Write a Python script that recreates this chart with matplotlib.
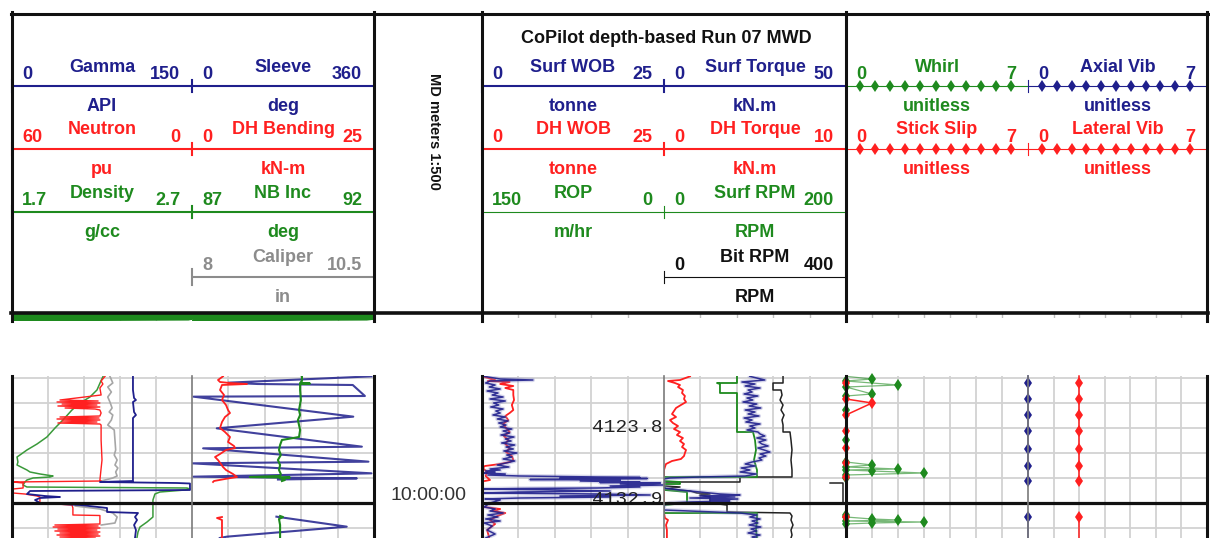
import numpy as np
import matplotlib.pyplot as plt

plt.rcParams['font.family'] = ['Liberation Sans', 'DejaVu Sans']

W, H = 1210, 538
fig = plt.figure(figsize=(W / 100, H / 100), dpi=100)

BLUE = '#1f1f8c'
RED = '#ff2020'
GREEN = '#1e8a1e'
GRAY = '#8c8c8c'
BLACK = '#111111'
GRID = '#d2d2d2'
nan = np.nan

# ---------------- log data (depth in m) ----------------
# track 1
gamma_depth = [4119.8, 4121.44, 4122.40, 4122.64, 4122.88, 4124.08, 4124.44, 4124.80, 4127.44, 4132.36,
               4132.48, 4132.60, 4132.66, 4133.44, 4133.56, 4133.92, 4134.16, 4134.28, 4134.40, 4134.64,
               4135.00, 4135.24, 4135.60, 4136.08, 4136.20, 4136.68, 4137.04, 4137.64, 4138.24, 4139.20]
gamma_api = [100.8, 100.8, 101.7, 103.3, 100.8, 101.7, 103.3, 100.8, 100.8, 100.8,
             73.3, 137.5, 148.3, 148.3, 15.0, 12.5, 27.5, 40.0, 23.3, 19.2,
             23.3, 56.7, 79.2, 79.2, 105.0, 102.5, 104.2, 101.7, 103.3, 102.5]

neutron_depth = [4119.8, 4120.36, 4120.72, 4121.20, 4122.04, 4122.64, 4122.76, 4122.88, 4123.00, 4123.12,
                 4123.24, 4123.36, 4123.48, 4123.60, 4123.72, 4123.84, 4124.20, 4124.56, 4124.68, 4124.80,
                 4124.92, 4125.04, 4125.16, 4125.28, 4125.40, 4125.52, 4125.64, 4127.44, 4129.84, 4132.24,
                 4132.36, 4132.48, 4132.60, 4133.20, 4133.32, 4133.80, 4133.92, 4134.16, 4134.28, 4135.00,
                 4135.24, 4135.60, 4136.44, 4136.50, 4137.52, 4137.64, 4137.76, 4137.88, 4138.00, 4138.12,
                 4138.24, 4138.36, 4138.48, 4138.60, 4138.72, 4138.84, 4138.96, 4139.08, 4139.20]
neutron_pu = [29.0, 30.3, 29.7, 30.7, 30.3, 44.0, 31.3, 45.0, 30.7, 43.3,
              31.7, 44.7, 30.7, 42.3, 32.3, 30.7, 30.3, 30.7, 44.0, 31.0,
              45.0, 30.7, 43.3, 31.7, 44.7, 30.7, 30.3, 30.3, 30.0, 30.7,
              30.3, 59.7, 56.3, 56.3, 59.7, 59.7, 55.7, 51.7, 50.7, 50.7,
              40.0, 39.7, 39.7, 30.7, 30.7, 45.7, 31.3, 46.3, 30.7, 44.7,
              31.7, 45.7, 30.7, 44.0, 31.3, 45.0, 30.7, 44.0, 32.3]

density_depth = [4119.8, 4120.60, 4121.44, 4122.28, 4123.00, 4123.84, 4125.04, 4126.00, 4127.08, 4127.92,
                 4128.64, 4129.24, 4129.48, 4130.08, 4130.44, 4130.80, 4131.04, 4131.28, 4131.52, 4131.76,
                 4131.88, 4132.00, 4132.24, 4132.48, 4132.84, 4133.08, 4133.20, 4133.32, 4133.44, 4133.68,
                 4133.92, 4134.64, 4136.68, 4137.28, 4137.88, 4138.48, 4139.20]
density_gcc = [2.206, 2.189, 2.172, 2.133, 2.078, 2.033, 1.983, 1.939, 1.894, 1.839,
               1.783, 1.744, 1.728, 1.733, 1.728, 1.761, 1.783, 1.800, 1.856, 1.928,
               1.911, 1.817, 1.783, 1.772, 1.761, 1.783, 2.672, 2.689, 2.661, 2.522,
               2.494, 2.483, 2.483, 2.450, 2.411, 2.400, 2.394]

caliper_depth = [4119.8, 4120.60, 4121.08, 4121.68, 4122.28, 4122.88, 4123.60, 4124.08, 4124.44, 4125.04,
                 4125.64, 4126.24, 4127.44, 4128.64, 4129.24, 4129.84, 4130.44, 4130.80, 4131.28, 4131.76,
                 4132.00, 4132.36, nan, 4135.36, 4135.72, 4136.20, 4136.68, 4137.40, 4137.64]
caliper_in = [9.36, 9.40, 9.33, 9.38, 9.33, 9.36, 9.39, 9.35, 9.40, 9.38,
              9.33, 9.42, 9.43, 9.44, 9.42, 9.46, 9.43, 9.47, 9.44, 9.46,
              9.40, 9.24, nan, 8.88, 9.22, 9.40, 9.46, 9.43, 9.24]

# track 2
sleeve_depth = [4119.8, 4120.56, 4120.72, 4120.84, 4122.16, 4122.24, 4124.64, 4126.04, 4128.24, 4128.44,
                4130.04, 4130.24, 4131.44, 4131.84, 4132.04, 4132.18, nan, 4136.64, 4137.84, 4139.04, 4139.20]
sleeve_deg = [355, 72, 130, 318, 342, 3, 319, 49, 336, 22,
              349, 0, 355, 3, 326, 170, nan, 167, 306, 69, 55]

bend_depth = [4119.8, 4120.24, 4120.48, 4120.60, 4120.72, 4120.84, 4121.44, 4122.04, 4122.64, 4123.24,
              4123.84, 4124.20, 4124.68, 4125.28, 4126.00, 4126.48, 4127.08, 4127.68, 4128.16, 4128.40,
              4128.64, 4129.12, 4129.48, 4129.84, 4130.32, 4130.68, 4131.04, 4131.52, 4131.88, 4132.12,
              4132.36, 4132.48, nan, 4136.68, 4136.80, 4137.04, 4139.20]
bend_knm = [4.26, 3.57, 3.85, 5.22, 7.56, 4.12, 3.85, 4.40, 4.12, 4.67,
            4.95, 5.22, 4.53, 4.12, 3.85, 4.53, 5.22, 4.95, 5.77, 5.91,
            4.67, 3.85, 3.16, 3.57, 3.98, 4.26, 4.67, 5.63, 6.18, 4.53,
            3.02, 2.89, nan, 4.12, 3.43, 4.12, 4.12]

nbinc_depth = [4119.8, 4120.36, 4120.60, 4120.66, 4120.72, 4121.44, 4122.64, 4123.84, 4124.44, 4125.04,
               4126.24, 4127.08, 4127.44, 4128.04, 4128.64, 4129.24, 4129.84, 4130.44, 4131.04, 4131.52,
               4131.76, 4131.88, 4131.94, 4132.00, 4132.24, 4132.36, nan, 4136.56, 4136.68, 4136.92,
               4137.64, 4139.20]
nbinc_deg = [90.02, 90.02, 89.97, 90.24, 89.97, 89.97, 89.99, 89.94, 89.97, 89.91,
             89.97, 89.94, 89.47, 89.42, 89.39, 89.44, 89.36, 89.42, 89.39, 89.44,
             89.42, 88.59, 89.69, 89.42, 89.55, 89.47, nan, 89.42, 89.50, 89.39,
             89.42, 89.42]

# track 3
swob_depth = [4119.8, 4120.12, 4120.24, 4120.36, 4120.60, 4120.84, 4121.08, 4121.32, 4121.56, 4121.80,
              4122.04, 4122.28, 4122.52, 4122.76, 4123.00, 4123.24, 4123.48, 4123.72, 4123.96, 4124.20,
              4124.44, 4124.68, 4124.92, 4125.16, 4125.40, 4125.64, 4125.88, 4126.12, 4126.36, 4126.60,
              4126.84, 4127.08, 4127.32, 4127.56, 4127.80, 4128.04, 4128.28, 4128.52, 4128.76, 4129.00,
              4129.24, 4129.48, 4129.72, 4129.96, 4130.20, 4130.44, 4130.68, 4130.92, 4131.04, 4131.16,
              4131.28, 4131.40, 4131.52, 4131.64, 4131.76, 4131.88, 4131.94, 4132.00, 4132.06, 4132.12,
              4132.18, 4132.24, 4132.36, 4132.48, 4132.54, 4132.60, 4132.72, 4132.84, 4132.96, 4133.08,
              4133.20, 4133.26, 4133.32, 4133.44, 4133.56, 4133.68, 4133.80, 4133.92, 4134.04, 4134.16,
              4134.28, 4134.40, 4134.52, 4134.64, 4135.00, 4135.48, 4135.72, 4135.96, 4136.20, 4136.44,
              4136.68, 4136.92, 4137.16, 4137.40, 4137.76, 4138.24, 4138.72, 4139.20]
swob_t = [0.3, 2.5, 7.0, 1.1, 0.5, 1.8, 1.0, 2.5, 0.7, 2.2,
          1.4, 2.9, 1.1, 3.2, 1.6, 2.3, 1.2, 2.9, 1.9, 2.5,
          1.5, 3.2, 2.1, 3.6, 2.3, 3.3, 2.5, 4.1, 2.9, 3.8,
          2.6, 4.4, 3.2, 4.0, 2.7, 4.5, 3.3, 4.3, 3.0, 4.8,
          3.4, 4.1, 2.9, 4.5, 3.3, 2.1, 3.7, 1.1, 2.5, 0.5,
          1.8, 0.3, 3.2, 0.8, 5.2, 16.2, 21.7, 10.7, 22.7, 16.2,
          6.6, 19.0, 13.5, 21.7, 16.2, 24.5, 19.0, 24.9, 17.6, 21.7,
          15.8, 5.2, 0.3, 10.7, 17.6, 5.2, 0.3, 16.2, 23.1, 10.7,
          17.6, 5.2, 0.4, 2.5, 1.1, 0.3, 1.8, 1.1, 2.9, 0.8,
          2.2, 0.5, 2.5, 0.3, 1.4, 0.7, 1.8, 0.5]

dhwob_depth = [4119.8, 4120.24, 4120.36, 4120.48, 4120.72, 4120.96, 4121.20, 4121.44, 4122.04, 4122.64,
               4123.24, 4123.84, 4124.20, 4124.56, 4125.04, 4125.52, 4126.00, 4126.48, 4126.96, 4127.44,
               4127.92, 4128.40, 4128.88, 4129.36, 4129.84, 4130.08, 4130.32, 4130.56, 4130.80, 4131.28,
               4131.76, 4132.24, 4132.36, nan, 4135.48, 4135.72, 4135.96, 4136.20, 4136.56, 4137.04,
               4137.52, 4138.24, 4139.20]
dhwob_t = [0.1, 1.8, 0.8, 3.8, 2.5, 4.3, 3.2, 4.3, 4.3, 4.4,
           4.1, 4.3, 3.8, 3.2, 3.6, 2.9, 3.3, 3.8, 3.0, 3.6,
           3.2, 3.8, 3.3, 4.1, 4.3, 3.8, 2.5, 0.4, 0.1, 0.7,
           0.5, 1.1, 0.4, nan, 0.3, 2.5, 1.5, 3.2, 2.1, 1.1,
           1.8, 0.7, 1.0]

# track 4
stq_depth = [4119.8, 4120.24, 4120.48, 4120.72, 4120.96, 4121.20, 4121.44, 4121.68, 4121.92, 4122.16,
             4122.40, 4122.64, 4122.88, 4123.12, 4123.36, 4123.60, 4123.84, 4124.08, 4124.32, 4124.56,
             4124.80, 4125.04, 4125.28, 4125.52, 4125.76, 4126.00, 4126.24, 4126.48, 4126.72, 4126.96,
             4127.20, 4127.44, 4127.68, 4127.92, 4128.16, 4128.40, 4128.64, 4128.88, 4129.12, 4129.36,
             4129.60, 4129.84, 4130.08, 4130.32, 4130.56, 4130.80, 4131.04, 4131.28, 4131.52, 4131.76,
             4131.88, 4132.00, 4132.12, 4133.20, 4133.44, 4133.68, 4133.92, 4134.04, 4134.16, 4134.28,
             4134.40, 4134.52, 4134.64, 4134.76, 4134.88, 4135.00, 4135.24, 4135.84, 4136.20, 4136.44,
             4136.68, 4136.92, 4137.16, 4137.40, 4137.64, 4137.88, 4138.12, 4138.36, 4138.60, 4138.84,
             4139.08, 4139.20]
stq_knm = [23.6, 27.7, 21.4, 25.0, 22.3, 26.4, 23.1, 24.2, 22.0, 25.8,
           22.8, 24.4, 21.7, 25.5, 23.4, 26.6, 22.3, 25.0, 23.1, 26.1,
           22.0, 24.2, 22.5, 26.4, 23.6, 25.0, 22.8, 25.8, 26.4, 27.7,
           25.5, 28.0, 26.1, 26.9, 28.6, 25.8, 27.5, 29.1, 26.4, 28.0,
           26.1, 26.9, 24.2, 22.3, 25.0, 21.2, 23.6, 20.9, 25.3, 22.3,
           9.9, 1.6, 0.0, 0.0, 4.4, 9.9, 15.4, 20.9, 9.9, 19.5,
           7.1, 20.3, 12.6, 18.1, 7.1, 1.6, 0.0, 0.0, 20.9, 25.5,
           23.6, 26.4, 24.2, 25.8, 23.4, 26.6, 23.9, 25.5, 23.1, 26.4,
           24.2, 25.3]

dhtq_depth = [4119.8, 4120.24, 4120.36, 4120.60, 4120.84, 4121.08, 4121.44, 4121.80, 4122.16, 4122.52,
              4122.88, 4123.24, 4123.60, 4123.96, 4124.32, 4124.68, 4125.04, 4125.40, 4125.76, 4126.12,
              4126.48, 4126.84, 4127.20, 4127.56, 4127.92, 4128.28, 4128.64, 4129.00, 4129.36, 4129.72,
              4129.96, 4130.32, 4130.68, 4131.04, 4135.00, 4136.20, 4136.80, 4137.04, 4137.64, 4138.24,
              4139.20]
dhtq_knm = [1.43, 0.88, 0.22, 0.60, 0.88, 0.77, 1.04, 0.99, 1.15, 1.10,
            1.21, 0.93, 0.66, 0.55, 0.44, 0.66, 0.33, 0.49, 0.77, 0.55,
            0.88, 0.71, 1.04, 0.88, 1.10, 0.99, 1.21, 1.15, 1.10, 0.93,
            0.44, 0.11, 0.05, 0.0, 0.0, 0.0, 0.05, 0.22, 0.11, 0.16,
            0.16]

srpm_depth = [4119.8, 4120.60, 4120.60, 4120.72, 4121.80, 4121.80, 4126.48, 4126.48, 4127.44, 4128.64,
              4129.84, 4131.04, 4131.88, 4131.88, 4132.36, 4132.48, 4132.72, 4132.72, 4133.44, 4133.68,
              4135.00, 4135.24, 4136.20, 4136.20, 4137.04, 4138.24, 4139.20]
srpm = [80.2, 80.2, 58.2, 61.5, 61.5, 80.2, 80.2, 97.8, 100.0, 101.1,
        98.9, 102.2, 102.2, 0.0, 0.0, 17.6, 17.6, 0.0, 1.1, 25.3,
        25.3, 0.0, 0.0, 102.2, 102.2, 101.1, 102.2]

bitrpm_depth = [4119.8, 4120.60, 4120.60, 4121.44, 4121.44, 4122.04, 4122.64, 4123.24, 4123.84, 4124.44,
                4125.04, 4125.64, 4126.48, 4126.48, 4127.44, 4128.64, 4129.84, 4131.04, 4131.88, 4131.88,
                4132.48, 4132.48, 4132.96, 4133.08, 4133.32, 4133.56, 4133.80, 4133.92, 4134.04, 4134.28,
                4135.00, 4135.24, 4136.08, 4136.20, 4136.56, 4137.04, 4137.64, 4138.24, 4138.84, 4139.20,
                nan, 4132.60, 4132.60, 4135.00]
bitrpm = [261.6, 261.6, 239.6, 239.6, 257.2, 259.4, 255.0, 261.6, 257.2, 263.8,
          259.4, 261.6, 261.6, 276.9, 279.1, 281.3, 279.1, 281.3, 281.3, 167.0,
          167.0, 0.0, 0.0, 35.2, 2.2, 57.1, 72.5, 101.1, 79.1, 101.1,
          101.1, 138.5, 138.5, 276.9, 281.3, 279.1, 283.5, 279.1, 281.3, 279.1,
          nan, 364.9, 393.4, 393.4]

# tracks 5 and 6
whirl_depth = [4119.8, 4120.12, 4120.36, 4120.84, 4121.08, 4121.92, 4122.16, 4123.84, 4127.44, 4130.08,
               4130.44, 4130.68, 4130.92, 4131.04, 4131.16, 4131.40, 4131.64, 4132.00, nan, 4136.44,
               4136.68, 4136.92, 4137.04, 4137.16, 4137.28, 4137.40, 4137.52, 4139.2]
whirl = [0, 1, 0, 2, 0, 1, 0, 0, 0, 0,
         1, 0, 2, 0, 1, 3, 0, 0, nan, 0,
         0, 1, 2, 0, 3, 1, 0, 0]

stick_depth = [4119.8, 4120.60, 4122.52, 4123.00, 4124.44, 4126.36, 4128.40, 4130.20, 4131.88, nan, 4136.68, 4139.2]
stick_slip = [0, 0, 0, 1, 0, 0, 0, 0, 0, nan, 0, 0]

vib_depth = [4119.8, 4120.60, 4122.52, 4124.44, 4126.36, 4128.52, 4130.56, 4132.36, nan, 4136.68, 4139.2]
axial_vib = [0, 0, 0, 0, 0, 0, 0, 0, nan, 0, 0]
lateral_vib = [2, 2, 2, 2, 2, 2, 2, 2, nan, 2, 2]

# cut-off log strip above the gap
strip_depth = [4100.00, 4100.10, 4100.20, 4100.30, 4100.40, 4100.50, 4100.60, 4100.70, 4100.80]
strip_density = [1.70, 2.70, 2.69, 1.71, 1.70, 2.70, 2.68, 1.72, 1.70]
strip_nbinc = [87.0, 92.0, 91.9, 87.1, 87.0, 92.0, 91.8, 87.2, 87.0]

# header scales: (track, row, name, left, right, unit, colour, style)
HEADER = [
    (0, 0, 'Gamma', '0', '150', 'API', BLUE, 'thick'),
    (0, 1, 'Neutron', '60', '0', 'pu', RED, 'thick'),
    (0, 2, 'Density', '1.7', '2.7', 'g/cc', GREEN, 'thick'),
    (1, 0, 'Sleeve', '0', '360', 'deg', BLUE, 'thick'),
    (1, 1, 'DH Bending', '0', '25', 'kN-m', RED, 'thick'),
    (1, 2, 'NB Inc', '87', '92', 'deg', GREEN, 'thick'),
    (1, 3, 'Caliper', '8', '10.5', 'in', GRAY, 'thick'),
    (2, 0, 'Surf WOB', '0', '25', 'tonne', BLUE, 'thick'),
    (2, 1, 'DH WOB', '0', '25', 'tonne', RED, 'thick'),
    (2, 2, 'ROP', '150', '0', 'm/hr', GREEN, 'thin'),
    (3, 0, 'Surf Torque', '0', '50', 'kN.m', BLUE, 'thick'),
    (3, 1, 'DH Torque', '0', '10', 'kN.m', RED, 'thick'),
    (3, 2, 'Surf RPM', '0', '200', 'RPM', GREEN, 'thin'),
    (3, 3, 'Bit RPM', '0', '400', 'RPM', BLACK, 'thin'),
    (4, 0, 'Whirl', '0', '7', 'unitless', GREEN, 'diamond'),
    (4, 1, 'Stick Slip', '0', '7', 'unitless', RED, 'diamond'),
    (5, 0, 'Axial Vib', '0', '7', 'unitless', BLUE, 'diamond'),
    (5, 1, 'Lateral Vib', '0', '7', 'unitless', RED, 'diamond'),
]

# ---------------- layout (pixels) ----------------
TRACKS = [(12, 192, 5), (192, 374, 5), (482, 664, 5), (664, 846, 5), (846, 1028, 7), (1028, 1207, 7)]
ROW_Y = [86, 148.5, 212, 276.5]
PANEL = (376, 538)
TOP_D, BOT_D = 4119.76, 4139.2
GRID_D = [4120, 4123, 4126, 4129, 4132, 4135, 4138]
MAJOR_D = 4135


def rect(x0, y0, x1, y1):
    return [x0 / W, 1 - y1 / H, (x1 - x0) / W, (y1 - y0) / H]


def blank(ax):
    ax.tick_params(length=0, labelbottom=False, labelleft=False)
    for s in ax.spines.values():
        s.set_visible(False)


# strip of the log above the gap
strips = []
for i, (x0, x1, nd) in enumerate(TRACKS):
    sy1 = 321 if i < 2 else 318
    sa = fig.add_axes(rect(x0, 314, x1, sy1))
    sa.set_xlim(0, nd)
    sa.set_ylim(4100.84, 4099.98)
    sa.set_xticks(range(1, nd))
    sa.set_yticks([])
    sa.grid(True, axis='x', color='#bdbdbd', lw=1.0)
    blank(sa)
    strips.append(sa)

s0 = strips[0].twiny()
s0.set_xlim(1.7, 2.7)
s0.axis('off')
s0.plot(strip_density, strip_depth, color=GREEN, lw=2.2)
s1 = strips[1].twiny()
s1.set_xlim(87, 92)
s1.axis('off')
s1.plot(strip_nbinc, strip_depth, color=GREEN, lw=2.2)

# log tracks
base = []
for x0, x1, nd in TRACKS:
    ax = fig.add_axes(rect(x0, PANEL[0], x1, PANEL[1]))
    ax.set_xlim(0, nd)
    ax.set_ylim(BOT_D, TOP_D)
    ax.set_xticks(range(1, nd))
    ax.set_yticks(GRID_D)
    ax.grid(True, color=GRID, lw=1.3)
    blank(ax)
    base.append(ax)


def curve(i, lo, hi, depth, vals, **kw):
    t = base[i].twiny()
    t.set_xlim(lo, hi)
    t.axis('off')
    t.plot(vals, depth, **kw)
    return t


curve(0, 8, 10.5, caliper_depth, caliper_in, color='#a6a6a6', lw=1.2)
curve(0, 1.7, 2.7, density_depth, density_gcc, color='#3a9a3a', lw=1.1)
curve(0, 60, 0, neutron_depth, neutron_pu, color=RED, lw=1.0)
curve(0, 0, 150, gamma_depth, gamma_api, color=BLUE, lw=1.3)

curve(1, 0, 360, sleeve_depth, sleeve_deg, color=BLUE, lw=1.5, alpha=0.85)
curve(1, 0, 25, bend_depth, bend_knm, color=RED, lw=1.3)
curve(1, 87, 92, nbinc_depth, nbinc_deg, color=GREEN, lw=1.5)

curve(2, 0, 25, dhwob_depth, dhwob_t, color=RED, lw=1.3)
sw = curve(2, 0, 25, swob_depth, swob_t, color='#8d8dc8', lw=3.0, alpha=0.35)
sw.plot(swob_t, swob_depth, color=BLUE, lw=1.1, alpha=0.9)

curve(3, 0, 10, dhtq_depth, dhtq_knm, color=RED, lw=1.3)
curve(3, 0, 400, bitrpm_depth, bitrpm, color='#222222', lw=1.1)
curve(3, 0, 200, srpm_depth, srpm, color=GREEN, lw=1.3)
st = curve(3, 0, 50, stq_depth, stq_knm, color='#8d8dc8', lw=3.0, alpha=0.35)
st.plot(stq_knm, stq_depth, color=BLUE, lw=1.1, alpha=0.9)

mk = dict(marker='d', ms=6, mew=0, clip_on=False)
w = curve(4, 0, 7, whirl_depth, whirl, color=GREEN, lw=0.9, alpha=0.6, clip_on=False)
w.plot(whirl[1:-1], whirl_depth[1:-1], ls='none', color=GREEN, **mk)
curve(4, 0, 7, stick_depth, stick_slip, color=RED, lw=1.1,
      markevery=[1, 2, 3, 4, 5, 6, 7, 8, 10], **mk)
curve(5, 0, 7, vib_depth, axial_vib, color=BLUE, lw=1.1,
      markevery=[1, 2, 3, 4, 5, 6, 7, 9], **mk)
curve(5, 0, 7, vib_depth, lateral_vib, color=RED, lw=1.1,
      markevery=[1, 2, 3, 4, 5, 6, 7, 9], **mk)

# major depth line and depth marks
for i, ax in enumerate(base):
    top = ax.twiny()
    top.axis('off')
    top.axhline(MAJOR_D, color=BLACK, lw=2.3, zorder=3)
    if i == 2:
        tr = top.get_yaxis_transform()
        top.text(0.99, 4126.48, '4123.8', transform=tr, ha='right', va='baseline',
                 family='Liberation Mono', fontsize=14, color='#222222', zorder=2)
        top.text(0.99, 4135.12, '4132.9', transform=tr, ha='right', va='baseline',
                 family='Liberation Mono', fontsize=14, color='#222222', zorder=2)

dax = fig.add_axes(rect(374, PANEL[0], 482, PANEL[1]))
dax.set_xlim(0, 1)
dax.set_ylim(BOT_D, TOP_D)
blank(dax)
dax.text(0.5, 4134.64, '10:00:00', ha='center', va='baseline', fontsize=14, color='#333333')

# ---------------- header and frame ----------------
ov = fig.add_axes([0, 0, 1, 1], zorder=10)
ov.set_xlim(0, W)
ov.set_ylim(H, 0)
ov.axis('off')

for ti, row, name, lft, rgt, unit, col, style in HEADER:
    x0, x1, _ = TRACKS[ti]
    y = ROW_Y[row]
    lw = 1.5 if style == 'thick' else 0.8
    ov.plot([x0, x1], [y, y], color=col, lw=lw, solid_capstyle='butt')
    tk = 8 if name == 'Caliper' else 6
    ov.plot([x0, x0], [y - tk, y + tk], color=col, lw=lw)
    if style == 'diamond':
        ov.plot(np.linspace(x0 + 14, x1 - 17, 11), [y] * 11, ls='none',
                marker='d', ms=6, mew=0, color=col)
    cx = (x0 + x1) / 2
    kw = dict(color=col, fontsize=13, fontweight='bold', va='baseline')
    ov.text(cx, y - 14, name, ha='center', **kw)
    ov.text(x0 + 10, y - 7, lft, ha='left', **kw)
    ov.text(x1 - 12, y - 7, rgt, ha='right', **kw)
    ov.text(cx, y + 25, unit, ha='center', **kw)

ov.text(666, 43, 'CoPilot depth-based Run 07 MWD', ha='center', va='baseline',
        fontsize=13, fontweight='bold', color=BLACK)
ov.text(434, 131, 'MD meters 1:500', rotation=-90, ha='center', va='center',
        fontsize=10.5, fontweight='bold', color=BLACK)

ov.plot([11, 1208], [13.5, 13.5], color=BLACK, lw=2.2)
ov.plot([11, 1208], [312.5, 312.5], color=BLACK, lw=2.6)
for x in [12, 374, 482, 846, 1207]:
    ov.plot([x, x], [12, 321], color=BLACK, lw=2.2)
    ov.plot([x, x], [PANEL[0], H], color=BLACK, lw=2.2)
for x in [192, 664, 1028]:
    ov.plot([x, x], [PANEL[0], H], color='#7a7a7a', lw=1.2, zorder=1)

fig.savefig('out.png', dpi=100)
